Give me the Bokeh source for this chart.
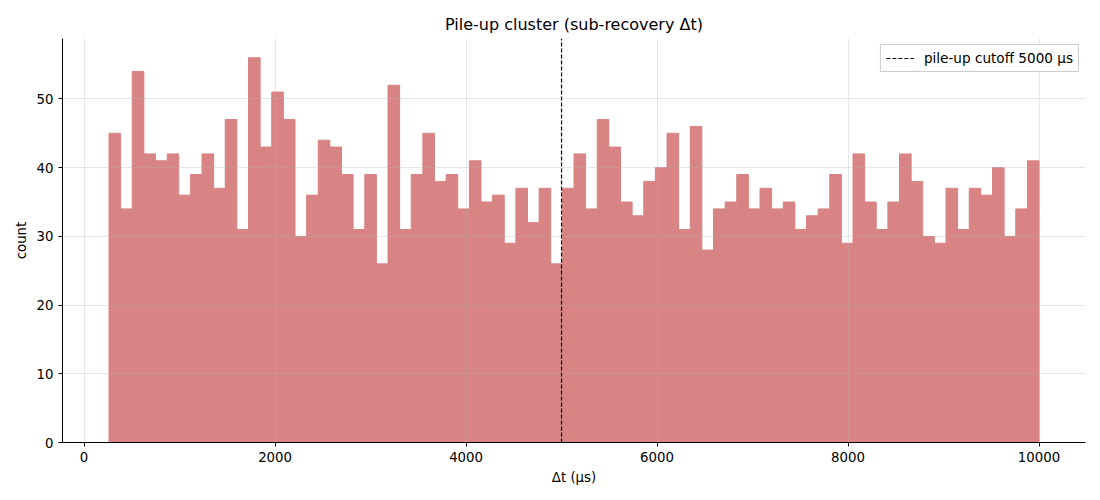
import numpy as np
from bokeh.plotting import figure
from bokeh.models import Legend, LegendItem, Range1d, FixedTicker
from bokeh.embed import file_html
from bokeh.resources import INLINE

counts = [45, 34, 54, 42, 41, 42, 36, 39, 42, 37,
          47, 31, 56, 43, 51, 47, 30, 36, 44, 43,
          39, 31, 39, 26, 52, 31, 39, 45, 38, 39,
          34, 41, 35, 36, 29, 37, 32, 37, 26, 37,
          42, 34, 47, 43, 35, 33, 38, 40, 45, 31,
          46, 28, 34, 35, 39, 34, 37, 34, 35, 31,
          33, 34, 39, 29, 42, 35, 31, 35, 42, 38,
          30, 29, 37, 31, 37, 36, 40, 30, 34, 41]
dt_min = 261.0
dt_max = 10000.0
cutoff = 5000
x_ticks = [0, 2000, 4000, 6000, 8000, 10000]
y_ticks = [0, 10, 20, 30, 40, 50]

edges = np.linspace(dt_min, dt_max, len(counts) + 1)
span_x = dt_max - dt_min
ymax = max(counts) * 1.05

FONT = "DejaVu Sans"
p = figure(width=1100, height=500, output_backend="svg", toolbar_location=None,
           x_range=Range1d(dt_min - 0.05 * span_x, dt_max + 0.05 * span_x),
           y_range=Range1d(0, ymax),
           min_border_left=62, min_border_right=15, min_border_top=38, min_border_bottom=58,
           title="Pile-up cluster (sub-recovery Δt)")
p.title.align = "center"
p.title.text_font = FONT
p.title.text_font_size = "16px"
p.title.text_font_style = "normal"
p.title.text_color = "black"
p.outline_line_color = None

BAR = "#d88484"
p.quad(left=edges[:-1], right=edges[1:], bottom=0, top=counts,
       fill_color=BAR, fill_alpha=1.0, line_color=BAR, line_width=1)

cut = p.line(x=[cutoff, cutoff], y=[0, ymax], line_color="black",
             line_dash="4 2", line_width=1.2)
legend = Legend(items=[LegendItem(label="pile-up cutoff 5000 µs", renderers=[cut])],
                location="top_right")
legend.label_text_font = FONT
legend.label_text_font_size = "13.6px"
legend.label_text_color = "black"
legend.border_line_color = "#cccccc"
legend.border_line_alpha = 1
legend.background_fill_alpha = 0.8
legend.padding = 5
legend.spacing = 0
legend.margin = 6
legend.glyph_width = 28
legend.glyph_height = 14
legend.label_standoff = 10
p.add_layout(legend)

for ax in (p.xaxis[0], p.yaxis[0]):
    ax.major_label_text_font = FONT
    ax.major_label_text_font_size = "13.3px"
    ax.major_label_text_color = "black"
    ax.axis_label_text_font = FONT
    ax.axis_label_text_font_size = "13.3px"
    ax.axis_label_text_font_style = "normal"
    ax.axis_label_text_color = "black"
    ax.minor_tick_line_color = None
    ax.major_tick_in = 0
    ax.major_tick_out = 4
    ax.axis_line_color = "black"
    ax.major_tick_line_color = "black"
p.xaxis.ticker = FixedTicker(ticks=x_ticks)
p.yaxis.ticker = FixedTicker(ticks=y_ticks)
p.xaxis.axis_label = "Δt (µs)"
p.yaxis.axis_label = "count"
for g in (p.xgrid[0], p.ygrid[0]):
    g.grid_line_color = "#b0b0b0"
    g.grid_line_alpha = 0.3
    g.level = "guide"

open("out.html", "w").write(file_html(p, INLINE))
